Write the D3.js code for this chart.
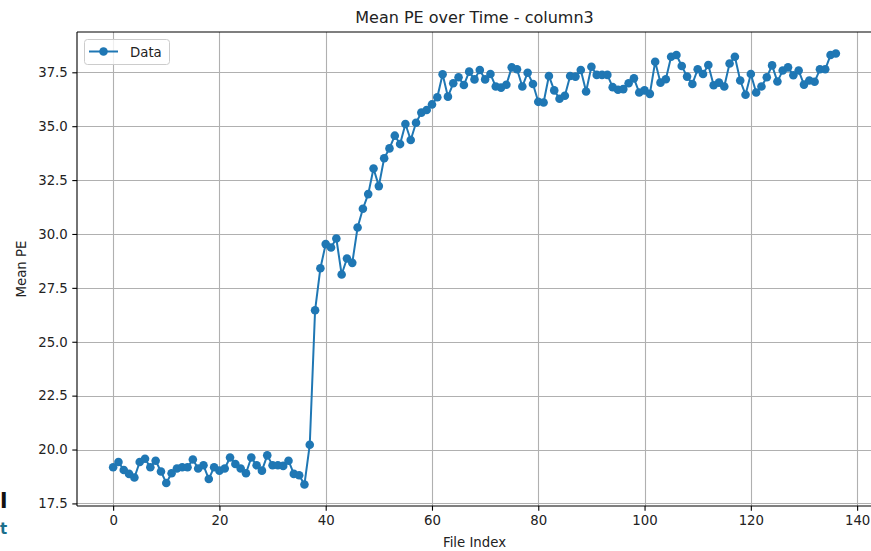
<!DOCTYPE html>
<html>
<head>
<meta charset="utf-8">
<script src="https://cdn.jsdelivr.net/npm/d3@7"></script>
<style>
  html, body { margin: 0; padding: 0; background: #fff; overflow: hidden; }
  svg { display: block; font-family: "DejaVu Sans", sans-serif; }
</style>
</head>
<body>
<svg id="chart" width="871" height="551"></svg>
<script>
// ---- data ----
const seriesName = "Data";
const titleText = "Mean PE over Time - column3";
const xLabel = "File Index";
const yLabel = "Mean PE";
const meanPE = [
  19.18, 19.42, 19.05, 18.87, 18.70, 19.42, 19.57, 19.18, 19.48, 18.98,
  18.45, 18.90, 19.12, 19.18, 19.18, 19.54, 19.12, 19.27, 18.63, 19.18,
  19.02, 19.12, 19.63, 19.33, 19.12, 18.90, 19.63, 19.27, 19.02, 19.73,
  19.27, 19.27, 19.24, 19.48, 18.87, 18.81, 18.38, 20.22, 26.46, 28.41,
  29.53, 29.37, 29.79, 28.12, 28.86, 28.66, 30.30, 31.17, 31.85, 33.04,
  32.22, 33.51, 33.97, 34.56, 34.17, 35.10, 34.36, 35.16, 35.63, 35.75,
  36.01, 36.34, 37.41, 36.37, 36.99, 37.27, 36.91, 37.53, 37.17, 37.61,
  37.17, 37.42, 36.84, 36.79, 36.92, 37.73, 37.64, 36.84, 37.48, 36.96,
  36.13, 36.10, 37.33, 36.66, 36.27, 36.41, 37.33, 37.30, 37.61, 36.61,
  37.76, 37.38, 37.38, 37.38, 36.81, 36.69, 36.72, 36.99, 37.22, 36.56,
  36.66, 36.50, 37.99, 37.02, 37.18, 38.22, 38.30, 37.79, 37.30, 36.96,
  37.64, 37.42, 37.84, 36.90, 37.02, 36.84, 37.91, 38.22, 37.12, 36.46,
  37.42, 36.56, 36.84, 37.27, 37.82, 37.07, 37.58, 37.73, 37.36, 37.58,
  36.93, 37.12, 37.06, 37.64, 37.64, 38.30, 38.37
];
const xTicks = [0, 20, 40, 60, 80, 100, 120, 140];
const yTicks = [17.5, 20.0, 22.5, 25.0, 27.5, 30.0, 32.5, 35.0, 37.5];

// ---- layout ----
const svg = d3.select("#chart");
const plot = { left: 77, top: 32, right: 872, bottom: 506 };
const blue = "#1f77b4";

const n = meanPE.length;
const xPad = 0.05 * (n - 1);
const yMin = d3.min(meanPE), yMax = d3.max(meanPE);
const yPad = 0.05 * (yMax - yMin);

const x = d3.scaleLinear().domain([-xPad, (n - 1) + xPad]).range([plot.left, plot.right]);
const y = d3.scaleLinear().domain([yMin - yPad, yMax + yPad]).range([plot.bottom, plot.top]);

// grid
const grid = svg.append("g");
grid.selectAll("line.vx").data(xTicks).join("line")
  .attr("x1", d => Math.round(x(d)) + 0.5).attr("x2", d => Math.round(x(d)) + 0.5)
  .attr("y1", plot.top).attr("y2", plot.bottom)
  .attr("stroke", "#b0b0b0").attr("stroke-width", 1.1);
grid.selectAll("line.hy").data(yTicks).join("line")
  .attr("y1", d => Math.round(y(d)) + 0.5).attr("y2", d => Math.round(y(d)) + 0.5)
  .attr("x1", plot.left).attr("x2", plot.right)
  .attr("stroke", "#b0b0b0").attr("stroke-width", 1.1);

// axes
const xAxis = d3.axisBottom(x).tickValues(xTicks).tickSize(4.7).tickPadding(4.5).tickFormat(d3.format("d"));
const yAxis = d3.axisLeft(y).tickValues(yTicks).tickSize(4.7).tickPadding(4.5).tickFormat(d3.format(".1f"));

const gx = svg.append("g").attr("transform", `translate(0,${plot.bottom})`).call(xAxis);
const gy = svg.append("g").attr("transform", `translate(${plot.left},0)`).call(yAxis);
[gx, gy].forEach(g => {
  g.select(".domain").remove();
  g.selectAll(".tick line").attr("stroke", "#000").attr("stroke-width", 1.1);
  g.selectAll(".tick text").attr("fill", "#222").style("font-size", "13.3px")
    .style("font-family", "'DejaVu Sans', sans-serif");
});

// spines
svg.append("line").attr("x1", plot.left).attr("x2", plot.left).attr("y1", plot.top).attr("y2", plot.bottom)
  .attr("stroke", "#000").attr("stroke-width", 1.1);
svg.append("line").attr("x1", plot.left).attr("x2", plot.right).attr("y1", plot.bottom).attr("y2", plot.bottom)
  .attr("stroke", "#000").attr("stroke-width", 1.1);
svg.append("line").attr("x1", plot.left).attr("x2", plot.right).attr("y1", plot.top).attr("y2", plot.top)
  .attr("stroke", "#000").attr("stroke-width", 1.1);

// line + markers
const line = d3.line().x((d, i) => x(i)).y(d => y(d));
svg.append("path").datum(meanPE).attr("d", line)
  .attr("fill", "none").attr("stroke", blue).attr("stroke-width", 2).attr("stroke-linejoin", "round");
svg.append("g").selectAll("circle").data(meanPE).join("circle")
  .attr("cx", (d, i) => x(i)).attr("cy", d => y(d)).attr("r", 4.3).attr("fill", blue);

// title & labels
svg.append("text").attr("x", (plot.left + plot.right) / 2).attr("y", 22.5)
  .attr("text-anchor", "middle").attr("fill", "#222").style("font-size", "16px").text(titleText);
svg.append("text").attr("x", (plot.left + plot.right) / 2).attr("y", 547)
  .attr("text-anchor", "middle").attr("fill", "#222").style("font-size", "13.3px").text(xLabel);
svg.append("text").attr("transform", `translate(26,${(plot.top + plot.bottom) / 2}) rotate(-90)`)
  .attr("text-anchor", "middle").attr("fill", "#222").style("font-size", "13.3px").text(yLabel);

// legend
const lg = svg.append("g");
lg.append("rect").attr("x", 84.5).attr("y", 39.5).attr("width", 85).attr("height", 25).attr("rx", 3)
  .attr("fill", "#fff").attr("fill-opacity", 0.8).attr("stroke", "#cccccc").attr("stroke-width", 1);
lg.append("line").attr("x1", 89).attr("x2", 118).attr("y1", 51.5).attr("y2", 51.5)
  .attr("stroke", blue).attr("stroke-width", 2);
lg.append("circle").attr("cx", 103.5).attr("cy", 51.5).attr("r", 4.3).attr("fill", blue);
lg.append("text").attr("x", 130).attr("y", 56.5).attr("fill", "#222").style("font-size", "13.3px").text(seriesName);

// stray fragments at the left edge of the capture
svg.append("text").attr("x", 0).attr("y", 508).attr("fill", "#111")
  .style("font-size", "22px").style("font-weight", "bold").text("l");
svg.append("text").attr("x", 0).attr("y", 534).attr("fill", "#1b6f8c")
  .style("font-size", "15px").style("font-weight", "bold").text("t");
</script>
</body>
</html>
